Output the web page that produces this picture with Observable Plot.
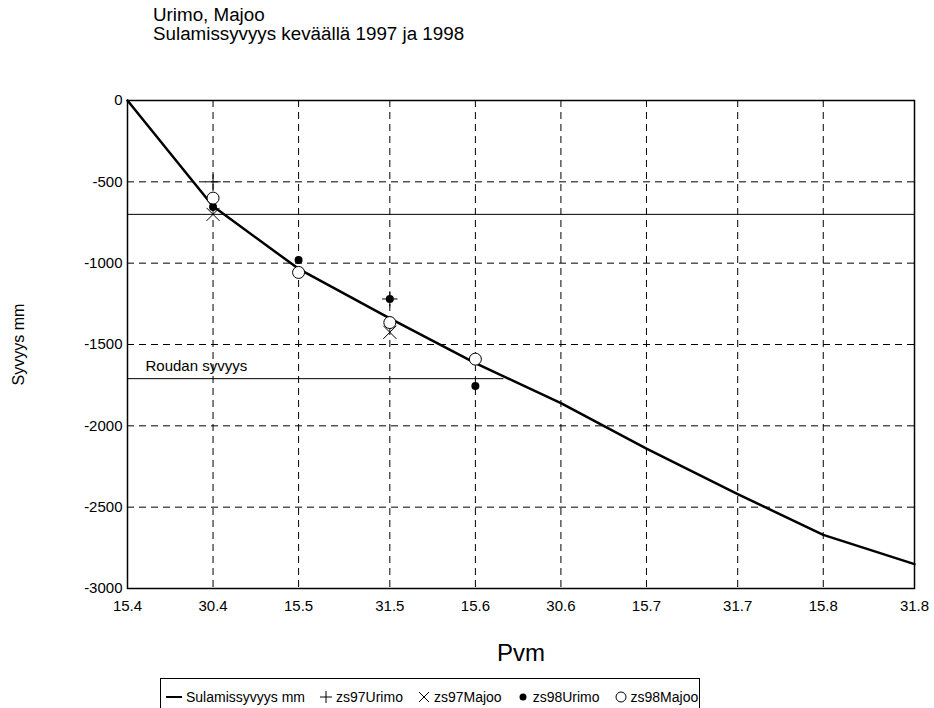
<!DOCTYPE html>
<html>
<head>
<meta charset="utf-8">
<script src="https://cdn.jsdelivr.net/npm/d3@7"></script>
<script src="https://cdn.jsdelivr.net/npm/@observablehq/plot@0.6"></script>
<style>
  body { margin: 0; background: #fff; font-family: "Liberation Sans", Arial, sans-serif; color: #000; }
  #wrap { position: relative; width: 934px; height: 708px; overflow: hidden; }
  #title { position: absolute; left: 153px; top: 5px; font-size: 18.8px; line-height: 19px; }
  #chart { position: absolute; left: 0; top: 0; }
  #legend { position: absolute; left: 160px; top: 678px; width: 540px; height: 40px; box-sizing: border-box;
            border: 1px solid #000; display: flex; align-items: flex-start; padding: 10px 0 0 4px;
            font-size: 14px; white-space: nowrap; }
  #legend .item { display: flex; align-items: center; margin-right: 14px; }
  #legend svg { margin-right: 3px; }
</style>
</head>
<body>
<div id="wrap">
  <div id="title">Urimo, Majoo<br>Sulamissyvyys keväällä 1997 ja 1998</div>
  <div id="chart"></div>
  <div id="legend"></div>
</div>
<script>
// Axis dates (day.month) and depth ticks
const tickDates = ["15.4", "30.4", "15.5", "31.5", "15.6", "30.6", "15.7", "31.7", "15.8", "31.8"];
const yTicks = [0, -500, -1000, -1500, -2000, -2500, -3000];

// Computed thaw depth (mm) at each axis date
const meltDepth = [0, -650, -1035, -1340, -1615, -1860, -2140, -2420, -2670, -2850];

// Measurement dates and observed thaw depths (mm)
const obsDates = ["30.4", "15.5", "31.5", "15.6"];
const zs97Urimo = [-500, null, -1220, null];
const zs97Majoo = [-700, null, -1425, null];
const zs98Urimo = [-655, -980, -1220, -1755];
const zs98Majoo = [-600, -1057, -1365, -1590];

// Reference depths
const upperLine = -700;
const frostDepth = -1710;
const frostLineEnd = "20.6";
const frostLabel = "Roudan syvyys";

const parse = s => { const [d, m] = s.split(".").map(Number); return new Date(Date.UTC(1998, m - 1, d)); };
const fmtDate = d => `${d.getUTCDate()}.${d.getUTCMonth() + 1}`;
const fmtDepth = v => (v < 0 ? "-" : "") + Math.abs(v);

const curve = tickDates.map((t, i) => ({date: parse(t), depth: meltDepth[i]}));
const obs = (vals) => obsDates.map((t, i) => ({date: parse(t), depth: vals[i]})).filter(d => d.depth != null);

const chart = Plot.plot({
  width: 934,
  height: 672,
  marginTop: 100,
  marginLeft: 127,
  marginRight: 20,
  marginBottom: 84,
  style: {fontFamily: "'Liberation Sans', Arial, sans-serif", fontSize: "15px", color: "#000", background: "transparent"},
  x: {type: "utc", domain: [parse("15.4"), parse("31.8")], label: null},
  y: {domain: [-3000, 0], label: null},
  marks: [
    Plot.gridX(tickDates.slice(1, -1).map(parse), {stroke: "#000", strokeOpacity: 1, strokeDasharray: "7,5"}),
    Plot.gridY(yTicks.slice(1, -1), {stroke: "#000", strokeOpacity: 1, strokeDasharray: "7,5"}),
    Plot.ruleY([upperLine], {stroke: "#000", strokeWidth: 1}),
    Plot.ruleY([frostDepth], {x1: parse("15.4"), x2: parse(frostLineEnd), stroke: "#000", strokeWidth: 1}),
    Plot.text([frostLabel], {x: parse("15.4"), y: frostDepth, dx: 18, dy: -12, textAnchor: "start", fontSize: 15}),
    Plot.line(curve, {x: "date", y: "depth", stroke: "#000", strokeWidth: 2.5}),
    Plot.dot(obs(zs97Urimo), {x: "date", y: "depth", symbol: "plus", r: 5, stroke: "#000", strokeWidth: 1}),
    Plot.dot(obs(zs97Majoo), {x: "date", y: "depth", symbol: "times", r: 6, stroke: "#000", strokeWidth: 1}),
    Plot.dot(obs(zs98Urimo), {x: "date", y: "depth", r: 4, fill: "#000", stroke: "none"}),
    Plot.dot(obs(zs98Majoo), {x: "date", y: "depth", r: 6, fill: "#fff", stroke: "#000", strokeWidth: 1}),
    Plot.axisX({ticks: tickDates.map(parse), tickFormat: fmtDate, tickSize: 0, tickPadding: 12, fontSize: 15, label: null}),
    Plot.axisY({ticks: yTicks, tickFormat: fmtDepth, tickSize: 0, tickPadding: 5, fontSize: 15, label: null}),
    Plot.text(["Syvyys mm"], {frameAnchor: "left", textAnchor: "middle", dx: -109, rotate: -90, fontSize: 16}),
    Plot.text(["Pvm"], {frameAnchor: "bottom", dy: 72, fontSize: 24}),
    Plot.frame({stroke: "#000", strokeWidth: 1.5})
  ]
});
document.getElementById("chart").appendChild(chart);

// Legend row beneath the chart
const legendItems = [
  {label: "Sulamissyvyys mm", sym: `<line x1="1" x2="17" y1="8" y2="8" stroke="#000" stroke-width="2"/>`, w: 18},
  {label: "zs97Urimo", sym: `<path d="M1,8H13M7,2V14" stroke="#000" stroke-width="1"/>`, w: 14},
  {label: "zs97Majoo", sym: `<path d="M2,3L12,13M12,3L2,13" stroke="#000" stroke-width="1"/>`, w: 14},
  {label: "zs98Urimo", sym: `<circle cx="7" cy="8" r="3.5" fill="#000"/>`, w: 14},
  {label: "zs98Majoo", sym: `<circle cx="7" cy="8" r="5" fill="#fff" stroke="#000"/>`, w: 14}
];
const legend = document.getElementById("legend");
for (const it of legendItems) {
  const el = document.createElement("span");
  el.className = "item";
  el.innerHTML = `<svg width="${it.w}" height="16">${it.sym}</svg><span>${it.label}</span>`;
  legend.appendChild(el);
}
</script>
</body>
</html>
